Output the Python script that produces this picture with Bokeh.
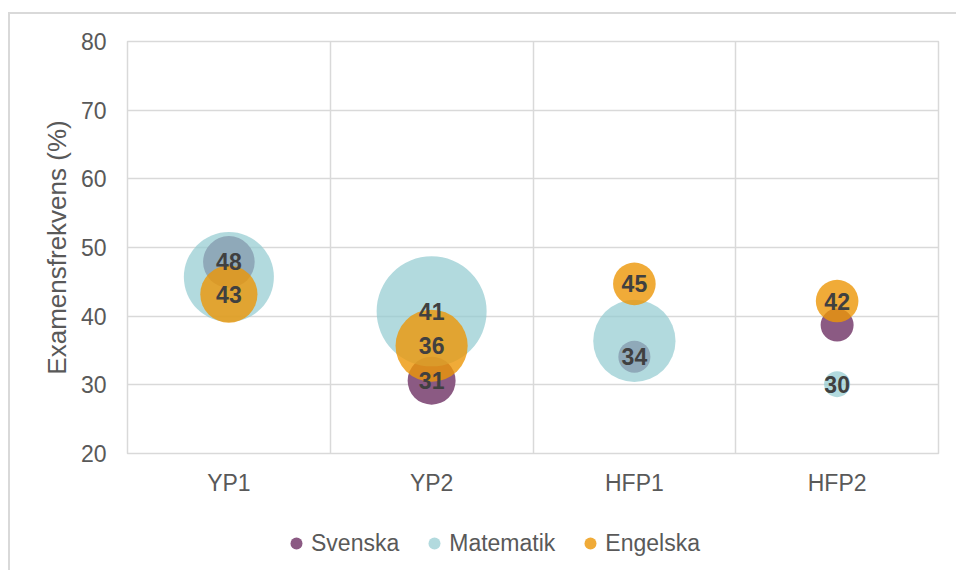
from bokeh.plotting import figure
from bokeh.models import ColumnDataSource, FixedTicker, Legend, LegendItem, Range1d
from bokeh.layouts import column
from bokeh.core.properties import value
from bokeh.embed import file_html
from bokeh.resources import INLINE

# ---- data -------------------------------------------------------------
categories = ["YP1", "YP2", "HFP1", "HFP2"]

svenska_y = [47.9, 30.6, 34.1, 38.7]
svenska_size = [22, 19, 8.5, 9]
svenska_labelled = [True, True, True, False]

matematik_y = [45.7, 40.7, 36.4, 30.1]
matematik_size = [67, 100, 56, 5.6]
matematik_labelled = [False, True, False, True]

engelska_y = [43.2, 35.7, 44.7, 42.2]
engelska_size = [27, 43, 15, 15]
engelska_labelled = [True, True, True, True]

y_ticks = [20, 30, 40, 50, 60, 70, 80]

# ---- styling ----------------------------------------------------------
FONT = "Liberation Sans"
GREY_TXT = "#595959"
LABEL_TXT = "#404040"
GRID = "#d9d9d9"
MAX_DIAM = 110  # px diameter of the largest bubble
W = 956

series = [
    ("Svenska", svenska_y, svenska_size, svenska_labelled, "#8b5a83", 1.0),
    ("Matematik", matematik_y, matematik_size, matematik_labelled, "#91cad0", 0.7),
    ("Engelska", engelska_y, engelska_size, engelska_labelled, "#ec9606", 0.8),
]

xs = list(range(1, len(categories) + 1))

p = figure(
    width=W, height=500,
    x_range=Range1d(0.5, len(categories) + 0.5),
    y_range=Range1d(20, 80),
    output_backend="svg", toolbar_location=None,
    min_border_left=127, min_border_right=18, min_border_top=41, min_border_bottom=47,
    background_fill_color="white", border_fill_color=None,
)
p.outline_line_color = GRID
p.outline_line_width = 1.5

label_x, label_y, label_t = [], [], []
for name, ys, sizes, labelled, color, alpha in series:
    diam = [MAX_DIAM * (s / max(matematik_size)) ** 0.5 for s in sizes]
    src = ColumnDataSource(dict(x=xs, y=ys, d=diam))
    p.scatter("x", "y", size="d", source=src, marker="circle",
              fill_color=color, fill_alpha=alpha, line_color=None)
    for xi, yi, show in zip(xs, ys, labelled):
        if show:
            label_x.append(xi)
            label_y.append(yi)
            label_t.append(f"{round(yi):d}")

lsrc = ColumnDataSource(dict(x=label_x, y=label_y, t=label_t))
p.text("x", "y", text="t", source=lsrc, text_align="center", text_baseline="middle",
       text_font=value(FONT), text_font_size="23px", text_font_style="bold",
       text_color=LABEL_TXT)

# grids
p.xgrid.ticker = FixedTicker(ticks=[x + 0.5 for x in range(0, len(categories) + 1)])
p.ygrid.ticker = FixedTicker(ticks=y_ticks)
for g in (p.xgrid[0], p.ygrid[0]):
    g.grid_line_color = GRID
    g.grid_line_width = 1.5

# axes
p.xaxis.ticker = FixedTicker(ticks=xs)
p.xaxis.major_label_overrides = {x: c for x, c in zip(xs, categories)}
p.yaxis.ticker = FixedTicker(ticks=y_ticks)
p.yaxis.axis_label = "Examensfrekvens (%)"
for ax in (p.xaxis[0], p.yaxis[0]):
    ax.axis_line_color = None
    ax.major_tick_line_color = None
    ax.minor_tick_line_color = None
    ax.major_tick_out = 0
    ax.major_tick_in = 0
    ax.major_label_text_font = FONT
    ax.major_label_text_font_size = "23px"
    ax.major_label_text_color = GREY_TXT
p.xaxis.major_label_standoff = 16
p.yaxis.major_label_standoff = 21
p.yaxis.axis_label_text_font = FONT
p.yaxis.axis_label_text_font_size = "26px"
p.yaxis.axis_label_text_font_style = "normal"
p.yaxis.axis_label_text_color = GREY_TXT
p.yaxis.axis_label_standoff = 6

# ---- legend strip below the chart --------------------------------------
lg = figure(width=W, height=70, x_range=Range1d(0, 1), y_range=Range1d(0, 1),
            output_backend="svg", toolbar_location=None, min_border=0,
            background_fill_color=None, border_fill_color=None)
lg.outline_line_color = None
lg.axis.visible = False
lg.grid.visible = False
items = []
for name, ys, sizes, labelled, color, alpha in series:
    # legend-only swatch (NaN position: never drawn in the frame)
    r = lg.scatter(x=[float("nan")], y=[float("nan")], marker="circle", size=12,
                   fill_color=color, fill_alpha=alpha, line_color=None)
    items.append(LegendItem(label=name, renderers=[r]))

legend = Legend(items=items, orientation="horizontal", location=(154, 12),
                glyph_width=30, glyph_height=30, label_standoff=-3, spacing=20,
                label_text_font=FONT, label_text_font_size="23px",
                label_text_color=GREY_TXT, border_line_color=None,
                background_fill_alpha=0, padding=0, margin=0)
lg.add_layout(legend, "center")

layout = column(p, lg, spacing=0,
                styles={"background-color": "white",
                        "box-shadow": "inset 8px 12px 0 0 white, inset 10px 14px 0 0 #d9d9d9"})
open("out.html", "w").write(file_html(layout, INLINE))
